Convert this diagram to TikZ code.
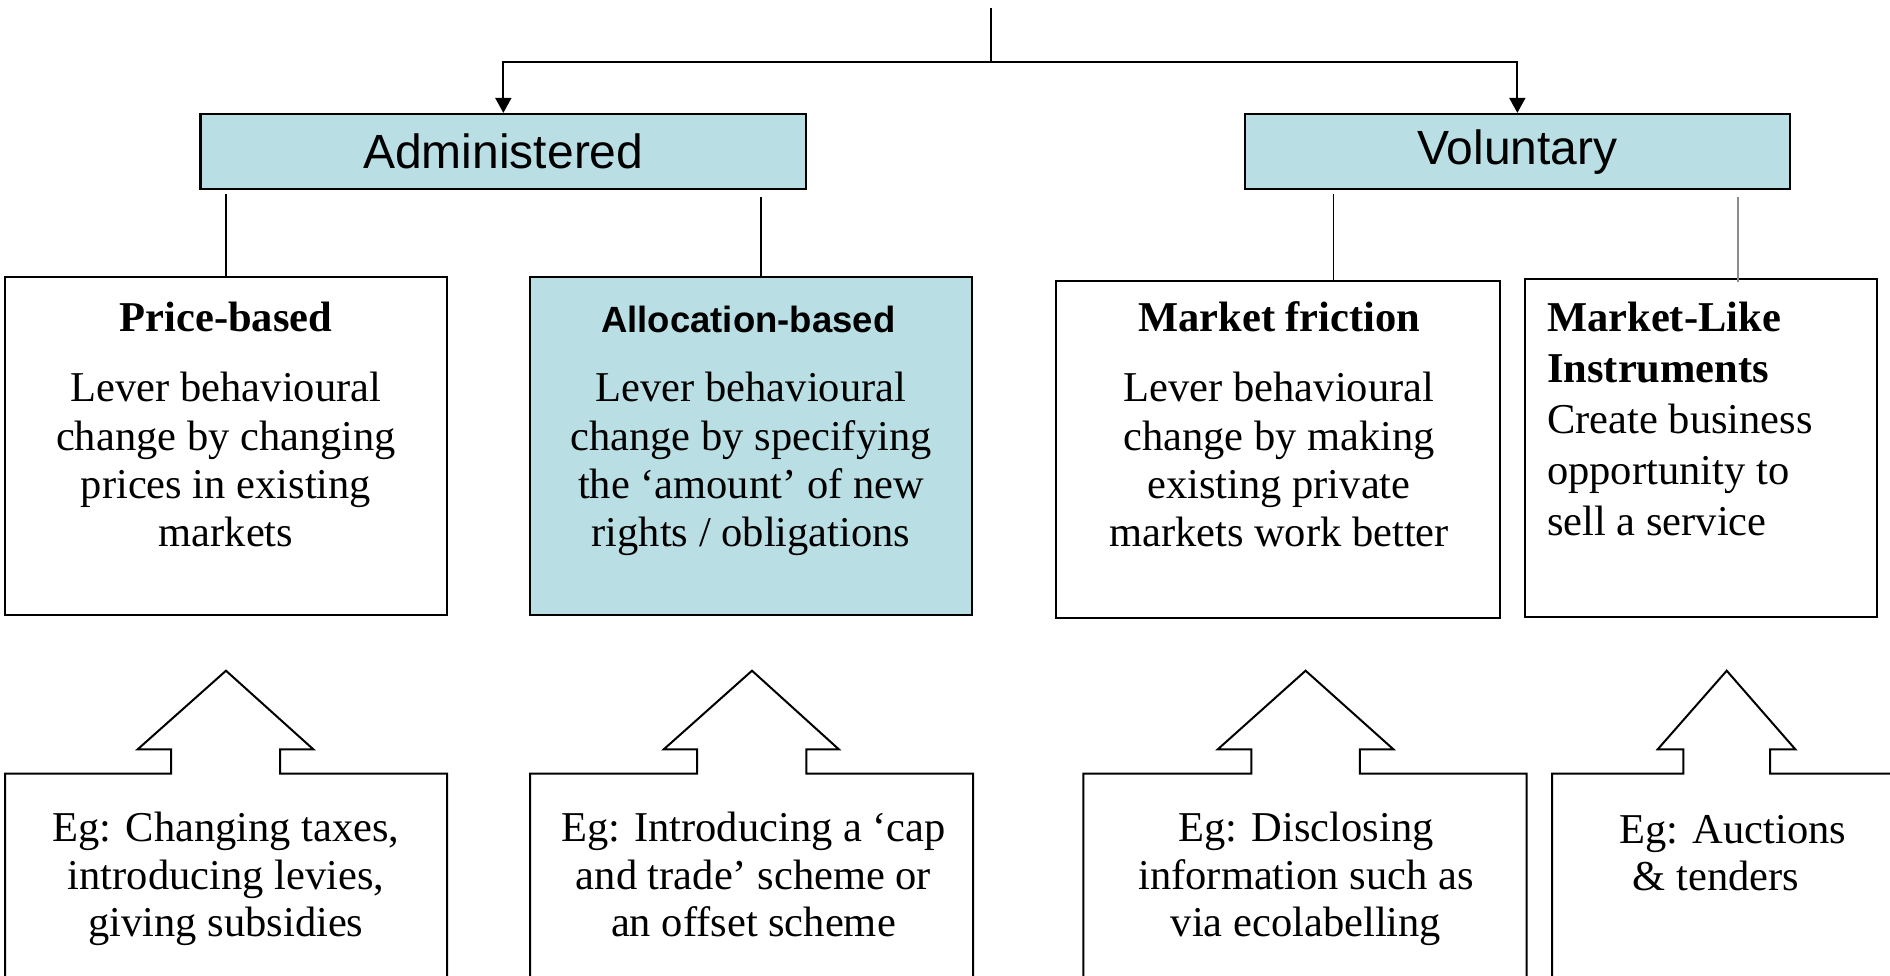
\documentclass[tikz,border=0pt]{standalone}
\usepackage{fontspec}
\setmainfont{Liberation Serif}
\newfontfamily\arialf{Liberation Sans}
\usetikzlibrary{arrows.meta,fit,calc}
\definecolor{paleblue}{RGB}{185,223,228}
\definecolor{connGray}{RGB}{140,140,140}
\begin{document}
\begin{tikzpicture}[x=0.5pt,y=-0.5pt,
  box/.style={draw=black,line width=1.1pt,inner sep=0pt},
  catbox/.style={box,fill=paleblue},
  callout/.style={draw=black,line width=1pt,line join=miter},
  conn/.style={draw=black,line width=0.9pt},
  arr/.style={conn,-{Triangle[length=7.5pt,width=8pt]}},
  body/.style={font=\fontsize{21.25pt}{24.15pt}\selectfont,align=center,anchor=base,inner sep=0pt},
  head/.style={font=\fontsize{21.25pt}{24.15pt}\selectfont\bfseries,anchor=base,inner sep=0pt},
  cat/.style={font=\arialf\fontsize{24pt}{28pt}\selectfont,inner sep=0pt}
]
\useasboundingbox (0,0) rectangle (1890,975);
\fill[white] (0,0) rectangle (1890,975);
\clip (0,0) rectangle (1890,975);

% category boxes
\node[catbox,fit={(200.4,114) (806.3,189.3)}] (adm) {};
\node[cat] (admt) at (adm.center) {Administered};
\node[catbox,fit={(1244.9,114) (1789.8,189.3)}] (vol) {};
\node[cat] (volt) at (vol.center) {Voluntary};

% top connector
\coordinate (top) at (991,8);
\coordinate (split) at (991,61.7);
\draw[conn] (top) -- (split);
\draw[arr] (split) -| (adm.north);
\draw[arr] (split) -| (vol.north);

% second row boxes
\node[box,fit={(5,276.7) (447,615)}] (price) {};
\node[catbox,fit={(530,276.7) (972,615)}] (alloc) {};
\node[box,fit={(1056.3,280.7) (1499.6,618.3)}] (mfric) {};
\node[box,fit={(1525,279.3) (1877,617.3)}] (mlike) {};

% connectors from categories
\coordinate (xa) at (226,0);
\coordinate (xb) at (760.7,0);
\coordinate (xc) at (1333.4,0);
\coordinate (xd) at (1737.9,0);
\draw[conn] ([yshift=-1.8pt]adm.south -| xa) -- (price.north -| xa);
\draw[conn] ([yshift=-3.3pt]adm.south -| xb) -- (alloc.north -| xb);
\draw[conn] ([yshift=-1.8pt]vol.south -| xc) -- (mfric.north -| xc);
\draw[conn,draw=connGray,line width=0.8pt] ([yshift=-3.3pt]vol.south -| xd) -- ([yshift=-1.7pt]mlike.north -| xd);

% second row texts (multi-line nodes: base = last baseline)
\node[head] (priceh) at (226,331.7) {Price-based};
\node[body] (pricet) at (226,546.7) {Lever behavioural\\change by changing\\prices in existing\\markets};
\node[head,font=\arialf\bfseries\fontsize{18.25pt}{22pt}\selectfont] (alloch) at (748.3,332) {Allocation-based};
\node[body] (alloct) at (751,546.7) {Lever behavioural\\change by specifying\\the ‘amount’ of new\\rights / obligations};
\node[head] (mfrich) at (1279.3,331.7) {Market friction};
\node[body] (mfrict) at (1279,546.7) {Lever behavioural\\change by making\\existing private\\markets work better};
\node[body,align=left,anchor=base west,font=\fontsize{21.25pt}{25.4pt}\selectfont] (mliket) at (1546.8,535) {\textbf{Market-Like}\\\textbf{Instruments}\\Create business\\opportunity to\\sell a service};

% bottom callouts
\draw[callout] (5,1000) -- (5,773.5) -- (171,773.5) -- (171,749.3) -- (137.7,749.3) -- (226,670.7) -- (313.3,749.3) -- (280,749.3) -- (280,773.5) -- (447,773.5) -- (447,1000);
\draw[callout] (530,1000) -- (530,773.5) -- (697,773.5) -- (697,749.3) -- (663.8,749.3) -- (752,670.7) -- (838.8,749.3) -- (806.3,749.3) -- (806.3,773.5) -- (973,773.5) -- (973,1000);
\draw[callout] (1083.4,1000) -- (1083.4,773.5) -- (1251.4,773.5) -- (1251.4,749.3) -- (1217.8,749.3) -- (1305.6,670.7) -- (1393.4,749.3) -- (1359.8,749.3) -- (1359.8,773.5) -- (1526.7,773.5) -- (1526.7,1000);
\draw[callout] (1552.2,1000) -- (1552.2,773.5) -- (1683.3,773.5) -- (1683.3,749.3) -- (1657.7,749.3) -- (1726.7,670.7) -- (1795.3,749.3) -- (1770,749.3) -- (1770,773.5) -- (1920,773.5);

\node[body,font=\fontsize{21.25pt}{23.75pt}\selectfont] (b1t) at (226,936.7) {Eg: Changing taxes,\\introducing levies,\\giving subsidies};
\node[body,font=\fontsize{21.25pt}{23.75pt}\selectfont] (b2t) at (753.5,936.7) {Eg: Introducing a ‘cap\\and trade’ scheme or\\an offset scheme};
\node[body,font=\fontsize{21.25pt}{23.75pt}\selectfont] (b3t) at (1306,936.7) {Eg: Disclosing\\information such as\\via ecolabelling};
\node[body] (b4a) at (1733,843.3) {Eg: Auctions};
\node[body] (b4b) at (1716,890) {\& tenders};
\end{tikzpicture}
\end{document}
